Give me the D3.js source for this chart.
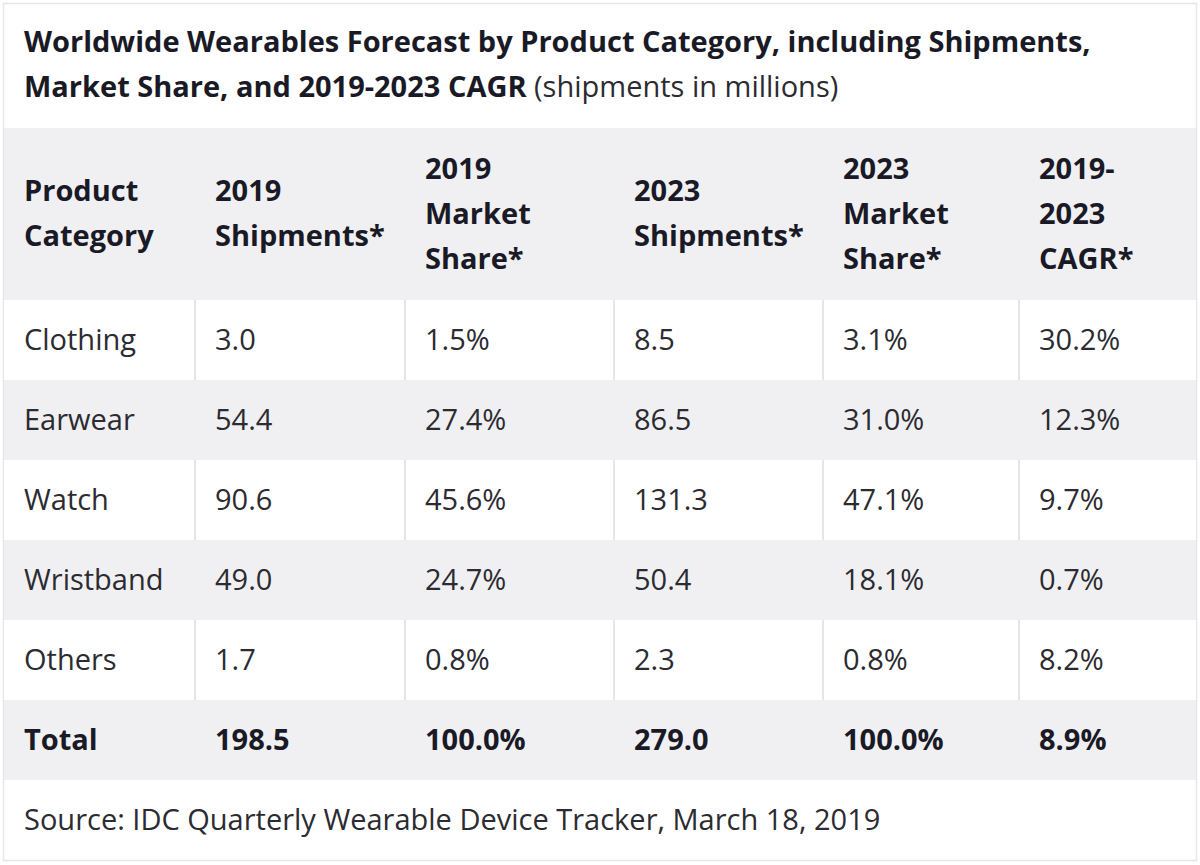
<!DOCTYPE html>
<html>
<head>
<meta charset="utf-8">
<script src="https://cdn.jsdelivr.net/npm/d3@7"></script>
<style>
  body { margin: 0; background: #fff; }
  svg { display: block; font-family: "Open Sans", sans-serif; }
</style>
</head>
<body>
<svg id="chart" width="1200" height="865"></svg>
<script>
// data
var titleBold1 = "Worldwide Wearables Forecast by Product Category, including Shipments,";
var titleBold2 = "Market Share, and 2019-2023 CAGR";
var titleNote = " (shipments in millions)";
var headers = [
  ["Product", "Category"],
  ["2019", "Shipments*"],
  ["2019", "Market", "Share*"],
  ["2023", "Shipments*"],
  ["2023", "Market", "Share*"],
  ["2019-", "2023", "CAGR*"]
];
var categories = ["Clothing", "Earwear", "Watch", "Wristband", "Others", "Total"];
var ship2019  = ["3.0", "54.4", "90.6", "49.0", "1.7", "198.5"];
var share2019 = ["1.5%", "27.4%", "45.6%", "24.7%", "0.8%", "100.0%"];
var ship2023  = ["8.5", "86.5", "131.3", "50.4", "2.3", "279.0"];
var share2023 = ["3.1%", "31.0%", "47.1%", "18.1%", "0.8%", "100.0%"];
var cagr      = ["30.2%", "12.3%", "9.7%", "0.7%", "8.2%", "8.9%"];
var source = "Source: IDC Quarterly Wearable Device Tracker, March 18, 2019";

// layout
var svg = d3.select("#chart");
var box = {left: 4, top: 4, right: 1196, bottom: 860};
var colWidths = [191, 210, 209, 209, 196, 177];
var colEdges = [box.left].concat(Array.from(d3.cumsum(colWidths), function(d) { return d + box.left; }));
var x = d3.scaleOrdinal().domain(d3.range(colWidths.length)).range(colEdges.slice(0, -1));
var headTop = 128, headBottom = 300;
var y = d3.scaleBand().domain(categories).range([headBottom, 780]);
var pad = 20;
var fs = "29px";
var gray = "#f0f0f2", lineCol = "#e6e6e9";
var textCol = "#2b2b31", boldCol = "#1a1a27";

var columns = [categories, ship2019, share2019, ship2023, share2023, cagr];

// outer frame
svg.append("rect")
    .attr("x", box.left - 0.5).attr("y", box.top - 0.5)
    .attr("width", box.right - box.left + 1).attr("height", box.bottom - box.top + 1)
    .attr("fill", "#fff").attr("stroke", lineCol).attr("stroke-width", 1.5);

// title
var title = svg.append("text")
    .attr("x", box.left + pad).attr("fill", boldCol)
    .style("font-size", fs);
title.append("tspan").attr("x", box.left + pad).attr("y", 52)
    .style("font-weight", 700).text(titleBold1);
title.append("tspan").attr("x", box.left + pad).attr("y", 97)
    .style("font-weight", 700).text(titleBold2);
title.append("tspan").style("font-weight", 400).attr("fill", textCol).text(titleNote);

// header band
svg.append("rect")
    .attr("x", box.left).attr("y", headTop)
    .attr("width", box.right - box.left).attr("height", headBottom - headTop)
    .attr("fill", gray);

var lh = 45, headMid = 213.5;
var hg = svg.append("g").selectAll("text")
    .data(headers)
    .join("text")
    .attr("fill", boldCol)
    .style("font-size", fs).style("font-weight", 700);
hg.selectAll("tspan")
    .data(function(d, c) { return d.map(function(s, i) { return {s: s, i: i, n: d.length, c: c}; }); })
    .join("tspan")
    .attr("x", function(d) { return x(d.c) + pad; })
    .attr("y", function(d) { return headMid + (d.i - (d.n - 1) / 2) * lh; })
    .attr("dy", "0.35em")
    .text(function(d) { return d.s; });

// row backgrounds
svg.append("g").selectAll("rect")
    .data(categories)
    .join("rect")
    .attr("x", box.left).attr("y", function(d) { return y(d); })
    .attr("width", box.right - box.left).attr("height", y.bandwidth())
    .attr("fill", function(d, i) { return i % 2 ? gray : "#fff"; });

// column separators in white rows
var whiteRows = categories.filter(function(d, i) { return i % 2 === 0; });
var seps = [];
whiteRows.forEach(function(r) {
  d3.range(1, colWidths.length).forEach(function(c) { seps.push({r: r, c: c}); });
});
svg.append("g").selectAll("line")
    .data(seps)
    .join("line")
    .attr("x1", function(d) { return x(d.c); }).attr("x2", function(d) { return x(d.c); })
    .attr("y1", function(d) { return y(d.r); }).attr("y2", function(d) { return y(d.r) + y.bandwidth(); })
    .attr("stroke", lineCol).attr("stroke-width", 2);

// cell text
var cells = [];
columns.forEach(function(col, c) {
  col.forEach(function(v, r) { cells.push({c: c, r: categories[r], v: v, total: categories[r] === "Total"}); });
});
svg.append("g").selectAll("text")
    .data(cells)
    .join("text")
    .attr("x", function(d) { return x(d.c) + pad; })
    .attr("y", function(d) { return y(d.r) + y.bandwidth() / 2; })
    .attr("dy", "0.35em")
    .attr("fill", function(d) { return d.total ? boldCol : textCol; })
    .style("font-size", fs)
    .style("font-weight", function(d) { return d.total ? 700 : 400; })
    .text(function(d) { return d.v; });

// source
svg.append("text")
    .attr("x", box.left + pad).attr("y", (780 + box.bottom) / 2)
    .attr("dy", "0.35em")
    .attr("fill", textCol)
    .style("font-size", fs)
    .text(source);
</script>
</body>
</html>
